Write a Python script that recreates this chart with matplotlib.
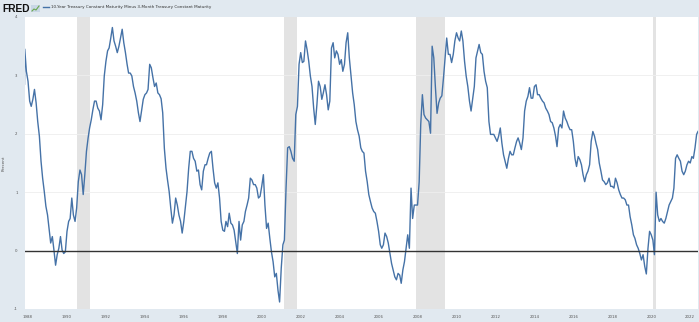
import matplotlib
matplotlib.use("Agg")
import matplotlib.pyplot as plt
from matplotlib.patches import Rectangle
from matplotlib.lines import Line2D
import pandas as pd

# ---------------- data (percent, 10Y minus 3M spread) ----------------
start_date = "1987-10-27"
end_date = "2022-05-27"
v1987 = [2.85, 3.45, 3.07]  # Oct 27, Nov, Dec
v1988 = [2.90, 2.56, 2.47, 2.59, 2.76, 2.53, 2.21, 1.96, 1.53, 1.24, 1.01, 0.76]
v1989 = [0.61, 0.35, 0.13, 0.24, 0.01, -0.25, -0.07, 0.04, 0.24, 0.01, -0.05, -0.02]
v1990 = [0.33, 0.50, 0.55, 0.90, 0.61, 0.50, 0.73, 1.18, 1.38, 1.30, 0.96, 1.30]
v1991 = [1.70, 1.93, 2.10, 2.24, 2.41, 2.56, 2.56, 2.44, 2.39, 2.24, 2.50, 2.99]
v1992 = [3.24, 3.42, 3.47, 3.64, 3.82, 3.59, 3.50, 3.39, 3.50, 3.64, 3.79, 3.56]
v1993 = [3.39, 3.19, 3.04, 3.04, 2.99, 2.81, 2.70, 2.56, 2.36, 2.21, 2.41, 2.59]
v1994 = [2.67, 2.70, 2.76, 3.19, 3.13, 2.96, 2.81, 2.87, 2.70, 2.67, 2.60, 2.36]
v1995 = [1.75, 1.41, 1.21, 1.01, 0.73, 0.47, 0.61, 0.90, 0.78, 0.61, 0.50, 0.30]
v1996 = [0.50, 0.76, 1.01, 1.41, 1.70, 1.70, 1.58, 1.53, 1.36, 1.38, 1.13, 1.04]
v1997 = [1.36, 1.47, 1.47, 1.58, 1.67, 1.70, 1.41, 1.16, 1.07, 1.16, 0.90, 0.50]
v1998 = [0.35, 0.33, 0.50, 0.41, 0.64, 0.47, 0.44, 0.35, 0.15, -0.05, 0.50, 0.18]
v1999 = [0.44, 0.50, 0.67, 0.78, 0.90, 1.24, 1.21, 1.13, 1.13, 1.07, 0.90, 0.93]
v2000 = [1.10, 1.30, 0.78, 0.38, 0.47, 0.21, -0.02, -0.19, -0.45, -0.39, -0.68, -0.88]
v2001 = [-0.30, 0.10, 0.18, 1.07, 1.76, 1.78, 1.70, 1.58, 1.53, 2.33, 2.47, 3.19]
v2002 = [3.39, 3.22, 3.24, 3.59, 3.44, 3.24, 2.99, 2.81, 2.44, 2.16, 2.50, 2.90]
v2003 = [2.81, 2.59, 2.70, 2.84, 2.67, 2.41, 2.56, 3.47, 3.56, 3.30, 3.42, 3.36]
v2004 = [3.19, 3.27, 3.07, 3.19, 3.56, 3.73, 3.30, 2.99, 2.70, 2.50, 2.21, 2.07]
v2005 = [1.96, 1.76, 1.70, 1.67, 1.36, 1.18, 0.96, 0.84, 0.73, 0.67, 0.64, 0.50]
v2006 = [0.33, 0.10, 0.04, 0.10, 0.30, 0.24, 0.13, -0.05, -0.22, -0.33, -0.45, -0.50]
v2007 = [-0.39, -0.42, -0.56, -0.33, -0.19, 0.04, 0.27, 0.04, 1.07, 0.55, 0.78, 0.78]
v2008 = [0.78, 1.18, 2.16, 2.67, 2.33, 2.27, 2.24, 2.21, 2.01, 3.50, 3.30, 2.80]
v2009 = [2.35, 2.53, 2.61, 2.65, 2.95, 3.30, 3.64, 3.36, 3.36, 3.22, 3.36, 3.59]
v2010 = [3.73, 3.64, 3.59, 3.76, 3.59, 3.24, 2.99, 2.81, 2.56, 2.39, 2.61, 2.81]
v2011 = [3.30, 3.42, 3.53, 3.39, 3.36, 3.07, 2.90, 2.79, 2.21, 1.99, 1.99, 1.99]
v2012 = [1.93, 1.87, 1.96, 2.10, 1.84, 1.64, 1.53, 1.41, 1.58, 1.70, 1.64, 1.64]
v2013 = [1.76, 1.87, 1.93, 1.84, 1.73, 1.93, 2.39, 2.56, 2.64, 2.79, 2.61, 2.61]
v2014 = [2.81, 2.84, 2.67, 2.67, 2.61, 2.56, 2.53, 2.44, 2.39, 2.33, 2.21, 2.19]
v2015 = [2.10, 1.96, 1.78, 2.10, 2.16, 2.10, 2.39, 2.27, 2.21, 2.13, 2.07, 2.07]
v2016 = [1.87, 1.58, 1.44, 1.61, 1.56, 1.47, 1.30, 1.18, 1.30, 1.36, 1.47, 1.87]
v2017 = [2.04, 1.96, 1.84, 1.73, 1.50, 1.36, 1.21, 1.18, 1.13, 1.16, 1.24, 1.10]
v2018 = [1.10, 1.07, 1.24, 1.16, 1.04, 0.96, 0.90, 0.90, 0.87, 0.78, 0.78, 0.58]
v2019 = [0.44, 0.27, 0.21, 0.10, 0.04, -0.05, -0.16, -0.07, -0.27, -0.40, 0.04, 0.33]
v2020 = [0.27, 0.18, -0.07, 1.00, 0.61, 0.50, 0.55, 0.50, 0.47, 0.55, 0.67, 0.78]
v2021 = [0.84, 0.90, 1.07, 1.58, 1.64, 1.58, 1.53, 1.36, 1.30, 1.36, 1.47, 1.53]
v2022 = [1.50, 1.61, 1.58, 1.76, 1.99, 2.04]  # Jan..May, May 27

recession_starts = ["1990-07-01", "2001-03-01", "2007-12-01", "2020-02-01"]
recession_ends = ["1991-03-01", "2001-11-01", "2009-06-01", "2020-04-01"]

tick_years = list(range(1988, 2023, 2))
ytick_values = [-1, 0, 1, 2, 3, 4]
series_name = "10-Year Treasury Constant Maturity Minus 3-Month Treasury Constant Maturity"

values = (v1987 + v1988 + v1989 + v1990 + v1991 + v1992 + v1993 + v1994 + v1995
          + v1996 + v1997 + v1998 + v1999 + v2000 + v2001 + v2002 + v2003 + v2004
          + v2005 + v2006 + v2007 + v2008 + v2009 + v2010 + v2011 + v2012 + v2013
          + v2014 + v2015 + v2016 + v2017 + v2018 + v2019 + v2020 + v2021 + v2022)
dates = ([pd.Timestamp(start_date)]
         + list(pd.date_range("1987-11-01", "2022-05-01", freq="MS"))
         + [pd.Timestamp(end_date)])
assert len(dates) == len(values)

# ---------------- figure ----------------
BG = "#E1E9F0"
LINE = "#4572A7"
W, H = 699, 322
fig = plt.figure(figsize=(W / 100, H / 100), dpi=100, facecolor=BG)
ax = fig.add_axes([24.5 / W, 1 - 309 / H, (698 - 24.5) / W, (309 - 17) / H])
ax.set_facecolor("white")

for s, e in zip(recession_starts, recession_ends):
    ax.axvspan(pd.Timestamp(s), pd.Timestamp(e), color="#E3E3E3", lw=0, zorder=0)

for yv in ytick_values:
    if yv not in (0, -1, 4):
        ax.axhline(yv, color="#EEEEEE", lw=0.6, zorder=0.5)

ax.plot(dates, values, color=LINE, lw=1.0, zorder=2, solid_joinstyle="round")
ax.axhline(0, color="#333333", lw=1.0, zorder=3)

ax.set_xlim(pd.Timestamp(start_date), pd.Timestamp(end_date))
ax.set_ylim(-1, 4)
ax.set_yticks(ytick_values)
ax.set_yticklabels([str(v) for v in ytick_values])
ax.set_xticks([pd.Timestamp(f"{y}-01-01") for y in tick_years])
ax.set_xticklabels([str(y) for y in tick_years])
ax.tick_params(axis="both", length=0, labelsize=2.8, colors="#555555")
ax.tick_params(axis="x", pad=4.5)
ax.tick_params(axis="y", pad=5)
for sp in ax.spines.values():
    sp.set_visible(False)
ax.set_ylabel("Percent", fontsize=3.0, color="#555555", labelpad=6)

# header: FRED logo, icon, legend
fred = fig.text(2 / W, 1 - 8.5 / H, "FRED", fontsize=8, fontweight="bold", color="#111111",
                family="Liberation Sans", va="center", ha="left")
fig.patches.append(Rectangle((31 / W, 1 - 12 / H), 9 / W, 7 / H, transform=fig.transFigure,
                             facecolor="#C9D7E6", edgecolor="none"))
fig.lines.append(Line2D([32 / W, 34 / W, 36 / W, 39 / W], [1 - 11 / H, 1 - 9 / H, 1 - 10 / H, 1 - 6 / H],
                        transform=fig.transFigure, color="#6AA84F", lw=0.8))
fig.lines.append(Line2D([43 / W, 49 / W], [1 - 7 / H, 1 - 7 / H], transform=fig.transFigure,
                        color=LINE, lw=1.0))
legend_text = fig.text(51 / W, 1 - 7 / H, series_name, fontsize=3.9, color="#333333",
                       va="center", ha="left")
# scale header texts to the reference widths
fig.canvas.draw()
r = fig.canvas.get_renderer()
legend_text.set_fontsize(3.9 * 162 / legend_text.get_window_extent(r).width)
fred.set_fontsize(8 * 28 / fred.get_window_extent(r).width)

fig.savefig("out.png", dpi=100, facecolor=BG)
